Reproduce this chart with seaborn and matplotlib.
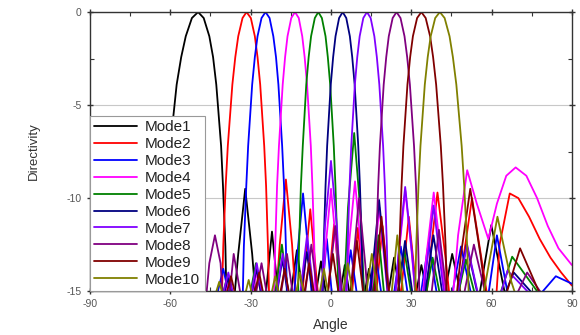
import pandas as pd
import matplotlib.pyplot as plt
from matplotlib.ticker import MultipleLocator
import seaborn as sns

# values (angle in degrees, directivity)
mode_names = ["Mode1", "Mode2", "Mode3", "Mode4", "Mode5",
              "Mode6", "Mode7", "Mode8", "Mode9", "Mode10"]
mode_colors = ["#000000", "#ff0000", "#0000ff", "#ff00ff", "#008000",
               "#000080", "#8000ff", "#800080", "#800000", "#808000"]

mode1_angle = [-90, -64.8, -62.9, -61.4, -60.0, -57.6, -55.9, -54.2, -51.9, -49.6, -47.5, -45.4, -44.0, -42.8, -41.0, -40.3, -39.4, -38.5,
               -37.4, -34.6, -32.0, -29.4, -26.9, -24.4, -22.0, -19.6, -17.3, -12.7, -8.2, -3.7,
               0.7, 5.2, 9.7, 14.2, 18.8, 23.6, 28.6, 33.8, 39.3, 45.3, 52.0, 55.7, 59.9, 64.8, 70.5, 90]
mode1_dir = [-20, -19, -12.6, -9.35, -7.2, -3.9, -2.42, -1.3, -0.32, 0, -0.32, -1.3, -2.42, -3.9, -7.2, -9.35, -12.6, -19,
             -17.5, -13, -9.5, -13, -17.5, -15.3, -11.8, -15.3, -17.5, -12.8, -17.5, -13.4,
             -17.5, -13.6, -17.5, -13.8, -17.5, -13.2, -17.5, -13.6, -17.5, -13.0, -17.5, -15.0, -11.45, -15.0, -17.5, -18]

mode2_angle = [-90, -41.4, -40.2, -39.3, -38.5, -36.8, -35.7, -34.6, -33.0, -31.5, -29.9, -28.4, -27.4, -26.4, -24.9, -24.2, -23.5, -22.5,
               -21.5, -19.1, -16.8, -14.5, -12.2, -10.0, -7.7, -5.5, -3.3, -1.0, 1.2, 3.4,
               5.6, 7.9, 10.1, 12.4, 14.7, 17.0, 19.3, 21.7, 24.1, 26.6, 29.1, 31.6,
               34.3, 37.0, 39.8, 42.8, 45.9, 49.2, 52.7, 56.5,
               60.8, 63.0, 66.8, 70, 74, 78, 82, 86, 90]
mode2_dir = [-20, -19, -12.6, -9.35, -7.2, -3.9, -2.42, -1.3, -0.32, 0, -0.32, -1.3, -2.42, -3.9, -7.2, -9.35, -12.6, -19,
             -17.5, -12.5, -9.0, -12.5, -17.5, -14.1, -10.6, -14.1, -17.5, -14.9, -11.4, -14.9,
             -17.5, -15.1, -11.6, -15.1, -17.5, -15.0, -11.5, -15.0, -17.5, -14.5, -11.0, -14.5,
             -17.5, -13.2, -9.7, -13.2, -17.5, -13.5, -10.0, -13.5,
             -17.5, -12.5, -9.75, -10.0, -11.0, -12.2, -13.2, -14.0, -14.7]

mode3_angle = [-90, -46.3, -40.2, -34.6,
               -33.5, -32.5, -31.6, -30.9, -29.4, -28.4, -27.4, -25.9, -24.4, -22.9, -21.5, -20.5, -19.6, -18.2, -17.5, -16.8, -15.9,
               -15.0, -12.65, -10.4, -8.2, -5.9, -3.7, -1.5, 0.7,
               3.0, 7.4, 12.0, 16.5, 21.2, 26.1, 31.1, 36.5, 42.2, 48.6,
               55.8, 58.5, 62.0, 66.5, 71, 78, 84, 90]
mode3_dir = [-20, -17.5, -13.8, -17.5,
             -19, -12.6, -9.35, -7.2, -3.9, -2.42, -1.3, -0.32, 0, -0.32, -1.3, -2.42, -3.9, -7.2, -9.35, -12.6, -19,
             -17.5, -13.25, -9.75, -13.25, -17.5, -15.7, -12.2, -15.7,
             -17.5, -12.8, -17.5, -12.8, -17.5, -12.6, -17.5, -12.4, -17.5, -12.6,
             -17.5, -15.5, -12.0, -15.5, -17.5, -15.2, -14.2, -14.6]

mode4_angle = [-90, -44.2, -38.3, -32.8, -27.7, -22.75,
               -21.8, -20.8, -20.1, -19.4, -18.0, -17.1, -16.2, -14.8, -13.4, -12.0, -10.7, -9.8, -8.9, -7.5, -6.9, -6.2, -5.3,
               -4.4, -2.2, 0.05, 2.25, 4.5, 6.7, 9.0, 11.2, 13.5, 15.8, 18.1, 20.4,
               22.85, 25.3, 27.8, 30.3, 32.9, 35.6, 38.4, 41.25,
               44.3, 47.5, 50.9, 54.5, 58.8, 62, 65.5, 69, 73, 77, 81, 85, 90]
mode4_dir = [-20, -17.5, -14.6, -17.5, -14.0, -17.5,
             -19, -12.6, -9.35, -7.2, -3.9, -2.42, -1.3, -0.32, 0, -0.32, -1.3, -2.42, -3.9, -7.2, -9.35, -12.6, -19,
             -17.5, -13, -9.5, -13, -17.5, -12.6, -9.1, -12.6, -17.5, -14, -10.5, -14,
             -17.5, -13.1, -9.6, -13.1, -17.5, -13.2, -9.7, -13.2,
             -17.5, -12, -8.5, -10.3, -12.2, -10.3, -8.8, -8.35, -8.8, -10.0, -11.5, -12.7, -13.6]

mode5_angle = [-90, -44.6, -38.65, -33.2, -28.0, -23.1, -18.3, -13.7,
               -12.8, -11.9, -11.2, -10.5, -9.2, -8.3, -7.4, -6.0, -4.7, -3.37, -2.0, -1.15, -0.26, 1.08, 1.70, 2.41, 3.3,
               4.2, 6.4, 8.7, 10.9, 13.2, 15.5, 17.8, 20.1,
               22.5, 27.4, 32.6, 38.0, 43.9, 50.4, 58.0, 67.7, 80, 90]
mode5_dir = [-20, -17.5, -14.2, -17.5, -13.5, -17.5, -12.5, -17.5,
             -19, -12.6, -9.35, -7.2, -3.9, -2.42, -1.3, -0.32, 0, -0.32, -1.3, -2.42, -3.9, -7.2, -9.35, -12.6, -19,
             -17.5, -10.5, -6.5, -10.5, -17.5, -15.5, -12.0, -15.5,
             -17.5, -12.8, -17.5, -13.2, -17.5, -13.3, -17.5, -13.15, -15.6, -17.5]

mode6_angle = [-90, -44.3, -38.4, -32.9, -27.8, -22.85, -18.1, -13.5, -9.0, -4.5,
               -3.6, -2.7, -2.0, -1.4, -0.05, 0.84, 1.73, 3.07, 4.4, 5.74, 7.08, 7.97, 8.87, 10.22, 10.85, 11.58, 12.49,
               13.4, 15.7, 18.0, 20.35, 22.75, 27.7, 32.8, 38.3, 44.2, 50.7, 58.4, 68.3, 90]
mode6_dir = [-20, -17.5, -14.3, -17.5, -13.8, -17.5, -13.3, -17.5, -12.9, -17.5,
             -19, -12.6, -9.35, -7.2, -3.9, -2.42, -1.3, -0.32, 0, -0.32, -1.3, -2.42, -3.9, -7.2, -9.35, -12.6, -19,
             -17.5, -13.6, -10.1, -13.6, -17.5, -12.3, -17.5, -12.0, -17.5, -12.5, -17.5, -14.0, -17.5]

mode7_angle = [-90, -44.2, -38.3, -32.8, -27.7, -22.8, -18.0, -13.4, -8.9, -4.4, -2.2, 0.03, 2.24, 4.47,
               5.37, 6.26, 6.97, 7.6, 8.95, 9.85, 10.75, 12.11, 13.47, 14.85, 16.23, 17.16, 18.09, 19.5, 20.16, 20.92, 21.87,
               22.83, 25.28, 27.74, 30.27, 32.89, 35.59, 38.35, 41.22, 44.27, 50.86, 58.55, 66.0, 90]
mode7_dir = [-20, -17.5, -14.0, -17.5, -13.5, -17.5, -13.0, -17.5, -12.0, -17.5, -11.5, -8.0, -11.5, -17.5,
             -19, -12.6, -9.35, -7.2, -3.9, -2.42, -1.3, -0.32, 0, -0.32, -1.3, -2.42, -3.9, -7.2, -9.35, -12.6, -19,
             -17.5, -12.9, -9.4, -12.9, -17.5, -13.9, -10.4, -13.9, -17.5, -12.5, -17.5, -13.9, -17.5]

mode8_angle = [-90, -48.0, -45.4, -43.3, -41.2, -39.5, -36.3, -31.0, -25.9, -21.1, -16.4, -11.8, -7.3, -2.9, 1.6,
               6.0, 8.3, 10.5, 12.8, 15.07,
               15.99, 16.92, 17.66, 18.31, 19.72, 20.67, 21.62, 23.07, 24.52, 26.0, 27.49, 28.49, 29.5, 31.05, 31.78, 32.61, 33.68,
               34.75, 37.5, 40.35, 43.3, 46.5, 53.4, 61.6, 73.3, 90]
mode8_dir = [-20, -17.5, -13.5, -12.0, -13.5, -17.5, -13.0, -17.5, -13.5, -17.5, -13.0, -17.5, -12.5, -17.5, -11.5,
             -17.5, -13.5, -10.0, -13.5, -17.5,
             -19, -12.6, -9.35, -7.2, -3.9, -2.42, -1.3, -0.32, 0, -0.32, -1.3, -2.42, -3.9, -7.2, -9.35, -12.6, -19,
             -17.5, -15.2, -11.7, -15.2, -17.5, -12.5, -17.5, -14.0, -17.5]

mode9_angle = [-90, -43.2, -37.3, -31.9, -26.8, -22.0, -17.25, -12.65, -8.1, -3.7, 0.77, 5.2, 9.7, 14.2,
               16.55, 18.9, 21.2, 23.6,
               24.61, 25.59, 26.38, 27.08, 28.59, 29.6, 30.63, 32.2, 33.78, 35.4, 37.05, 38.17, 39.31, 41.05, 41.88, 42.84, 44.07,
               45.3, 48.6, 52.05, 55.8, 60.0, 64.8, 70.65, 79.1, 90]
mode9_dir = [-20, -17.5, -14.2, -17.5, -14.0, -17.5, -13.8, -17.5, -13.5, -17.5, -13.0, -17.5, -12.3, -17.5,
             -14.5, -11.0, -14.5, -17.5,
             -19, -12.6, -9.35, -7.2, -3.9, -2.42, -1.3, -0.32, 0, -0.32, -1.3, -2.42, -3.9, -7.2, -9.35, -12.6, -19,
             -17.5, -13, -9.5, -13, -17.5, -15.5, -12.7, -15.5, -17.5]

mode10_angle = [-90, -48.0, -41.7, -36.0, -30.7, -25.7, -20.8, -16.1, -11.6, -7.1, -2.6, 1.8, 6.3, 10.8, 15.3, 20.0,
                22.4, 24.8, 27.3, 29.8,
                30.83, 31.87, 32.71, 33.45, 35.07, 36.16, 37.27, 38.96, 40.69, 42.47, 44.31, 45.56, 46.85, 48.84, 49.79, 50.9, 52.32,
                53.8, 57.8, 62.2, 67.4, 74.2, 90]
mode10_dir = [-20, -17.5, -14.5, -17.5, -14.4, -17.5, -14.2, -17.5, -14.0, -17.5, -13.8, -17.5, -13.5, -17.5, -13.0, -17.5,
              -15.5, -12.0, -15.5, -17.5,
              -19, -12.6, -9.35, -7.2, -3.9, -2.42, -1.3, -0.32, 0, -0.32, -1.3, -2.42, -3.9, -7.2, -9.35, -12.6, -19,
              -17.5, -14.5, -11.0, -14.5, -17.5, -16.5]

x_ticks = [-90, -60, -30, 0, 30, 60, 90]
y_ticks = [-15, -10, -5, 0]

angles = [mode1_angle, mode2_angle, mode3_angle, mode4_angle, mode5_angle,
          mode6_angle, mode7_angle, mode8_angle, mode9_angle, mode10_angle]
dirs = [mode1_dir, mode2_dir, mode3_dir, mode4_dir, mode5_dir,
        mode6_dir, mode7_dir, mode8_dir, mode9_dir, mode10_dir]

frames = []
for name, a, d in zip(mode_names, angles, dirs):
    frames.append(pd.DataFrame({"Angle": a, "Directivity": d, "Mode": name}))
df = pd.concat(frames, ignore_index=True)

sns.set_theme(style="white")
plt.rcParams['font.family'] = ['Liberation Sans', 'DejaVu Sans']
plt.rcParams['axes.unicode_minus'] = False

fig = plt.figure(figsize=(5.8, 3.35), dpi=100)
ax = fig.add_axes([0.155, 0.131, 0.831, 0.833])

sns.lineplot(data=df, x="Angle", y="Directivity", hue="Mode", hue_order=mode_names,
             palette=mode_colors, estimator=None, sort=False, linewidth=1.3, ax=ax)

ax.set_xlim(-90, 90)
ax.set_ylim(-15, 0)
ax.set_xticks(x_ticks)
ax.set_yticks(y_ticks)
ax.xaxis.set_minor_locator(MultipleLocator(15))
ax.yaxis.set_minor_locator(MultipleLocator(2.5))
ax.tick_params(which='major', direction='inout', length=5, width=1, color='#333333',
               labelcolor='#555555', labelsize=7.5, bottom=True, left=True, top=True, right=True,
               labeltop=False, labelright=False)
ax.tick_params(which='minor', direction='in', length=3, width=0.8, color='#333333',
               bottom=True, left=True, top=True, right=True)
ax.yaxis.grid(True, color='#c8c8c8', linewidth=0.8)
ax.set_axisbelow(True)
for s in ax.spines.values():
    s.set_color('#333333')
    s.set_linewidth(1.0)

ax.set_xlabel("Angle", fontsize=10, color='#333333', labelpad=6)
ax.set_ylabel("Directivity", fontsize=9.5, color='#333333', labelpad=19)

handles, labels = ax.get_legend_handles_labels()
leg = ax.legend(handles, labels, loc='lower left', bbox_to_anchor=(0, 0), borderaxespad=0,
                frameon=True, fancybox=False, edgecolor='#999999', framealpha=1,
                fontsize=11, handlelength=2.8, labelspacing=0.19, borderpad=0.3, handletextpad=0.5)
leg.get_frame().set_linewidth(0.8)
for t in leg.get_texts():
    t.set_color('#222222')

fig.savefig("out.png", dpi=100)
